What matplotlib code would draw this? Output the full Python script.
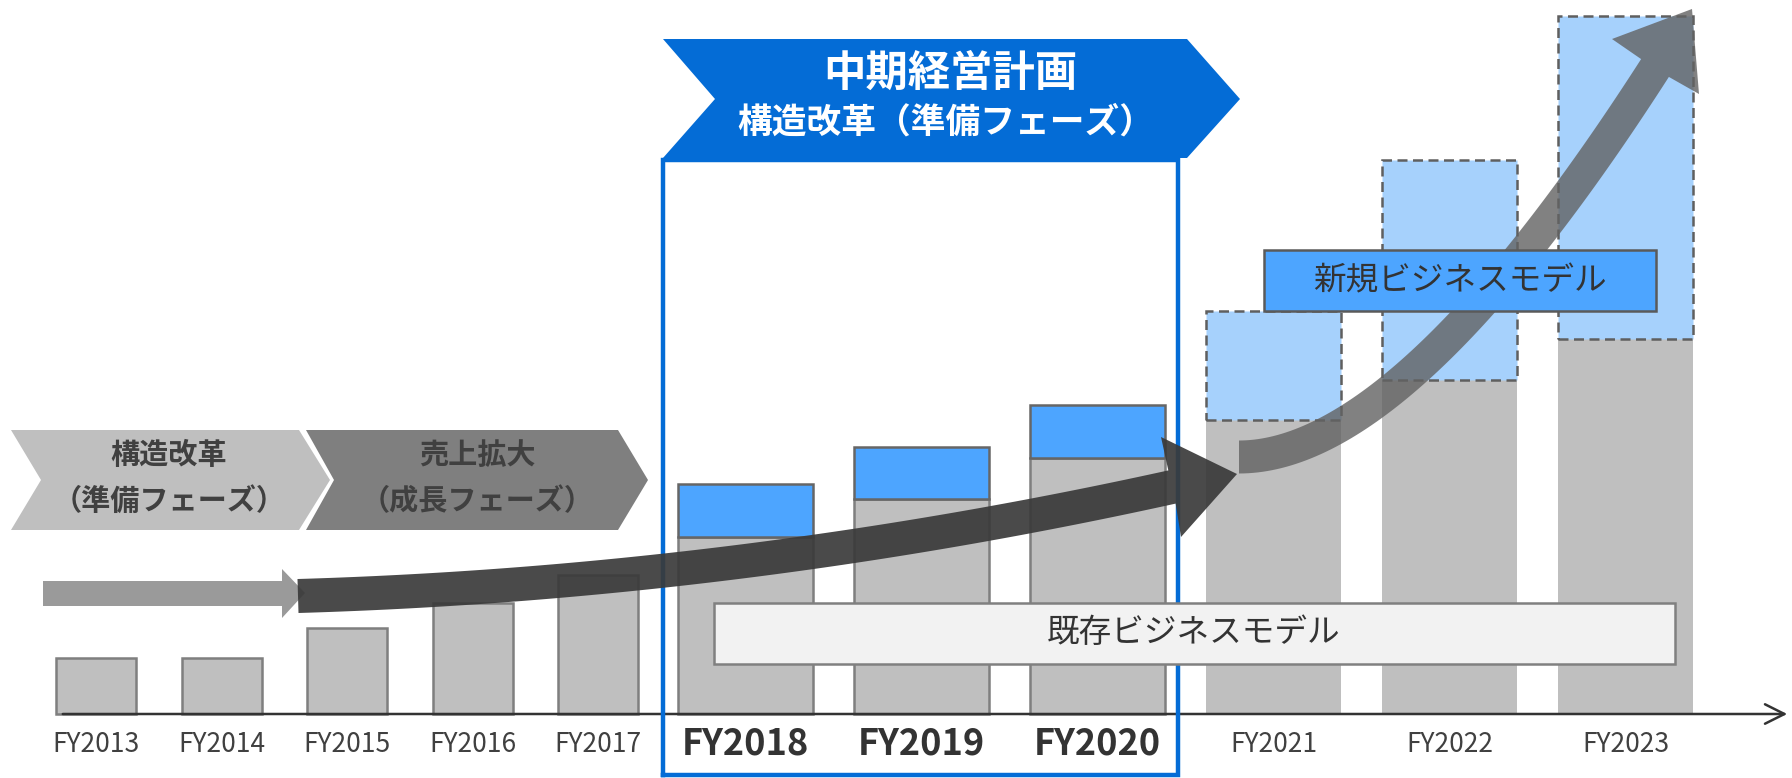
import numpy as np
import matplotlib
matplotlib.use("Agg")
import matplotlib.pyplot as plt
from matplotlib.patches import Polygon, Rectangle

plt.rcParams['font.family'] = ['Noto Sans CJK JP', 'DejaVu Sans']

# data (arbitrary units)
years = ['FY2013', 'FY2014', 'FY2015', 'FY2016', 'FY2017', 'FY2018',
         'FY2019', 'FY2020', 'FY2021', 'FY2022', 'FY2023']
existing = [56, 56, 86, 111, 139, 177, 215, 256, 294, 334, 375]
new_biz = [0, 0, 0, 0, 0, 53, 52, 53, 109, 220, 323]
plan_years = ['FY2018', 'FY2019', 'FY2020']
future_years = ['FY2021', 'FY2022', 'FY2023']

W, H = 1792, 778
BASE = 714  # baseline, pixels from top


def S(x, y):
    # screen px (top origin) -> data coords
    return (x, BASE - y)


def SP(pts):
    return [S(x, y) for x, y in pts]


fig = plt.figure(figsize=(W / 100, H / 100), dpi=100)
ax = fig.add_axes([0, 0, 1, 1])
ax.set_xlim(0, W)
ax.set_ylim(BASE - H, BASE)
ax.axis('off')

# bar layout: narrow past bars, wide plan / future bars
xpos = []
for i, y in enumerate(years):
    if i < 5:
        xpos.append(96 + 125.5 * i)
    else:
        xpos.append(745.5 + 176 * (i - 5))

past = [i for i, y in enumerate(years) if y < 'FY2018']
plan = [i for i, y in enumerate(years) if y in plan_years]
fut = [i for i, y in enumerate(years) if y in future_years]

GRAY = '#bfbfbf'
ax.bar([xpos[i] for i in past], [existing[i] for i in past], width=80,
       color=GRAY, edgecolor='#7f7f7f', linewidth=1.8, zorder=2)
ax.bar([xpos[i] for i in plan], [existing[i] for i in plan], width=135,
       color=GRAY, edgecolor='#7f7f7f', linewidth=1.8, zorder=2)
ax.bar([xpos[i] for i in plan], [new_biz[i] for i in plan], width=135,
       bottom=[existing[i] for i in plan],
       color='#4da5ff', edgecolor='#666666', linewidth=1.8, zorder=2)
ax.bar([xpos[i] for i in fut], [existing[i] for i in fut], width=135,
       color=GRAY, edgecolor='none', zorder=2)
ax.bar([xpos[i] for i in fut], [new_biz[i] for i in fut], width=135,
       bottom=[existing[i] for i in fut],
       color='#a6d1fc', edgecolor='#5f5f5f', linewidth=1.8,
       linestyle=(0, (4, 2.2)), zorder=2)

# x axis with open arrow
ax.annotate('', xy=S(1790, 714), xytext=S(60, 714),
            arrowprops=dict(arrowstyle='->,head_length=0.7,head_width=0.35',
                            lw=1.8, color='#333333', mutation_scale=20),
            zorder=3)

for i, y in enumerate(years):
    if y in plan_years:
        ax.text(xpos[i], BASE - 744, y, ha='center', va='center',
                fontsize=26, fontweight='bold', color='#333333', zorder=4)
    else:
        ax.text(xpos[i], BASE - 745, y, ha='center', va='center',
                fontsize=19, color='#404040', zorder=4)

# medium-term plan frame and banner
BLUE = '#046cd6'
ax.plot(*zip(*SP([(663, 775), (663, 160), (1178, 160), (1178, 775), (663, 775)])),
        color=BLUE, lw=3.2, zorder=3, solid_joinstyle='miter')
ax.add_patch(Polygon(SP([(663, 39), (1187, 39), (1240, 99), (1187, 158),
                         (663, 158), (715, 99)]), closed=True,
                     facecolor=BLUE, edgecolor='none', zorder=4))
ax.text(950, BASE - 74, '中期経営計画', ha='center', va='center',
        fontsize=30.5, fontweight='bold', color='white', zorder=5)
ax.text(946, BASE - 122, '構造改革（準備フェーズ）', ha='center', va='center',
        fontsize=25, fontweight='bold', color='white', zorder=5)

# phase chevrons on the left
ax.add_patch(Polygon(SP([(11, 430), (299, 430), (330, 480), (299, 530),
                         (11, 530), (41, 480)]), closed=True,
                     facecolor='#bfbfbf', edgecolor='none', zorder=4))
ax.add_patch(Polygon(SP([(306, 430), (618, 430), (648, 480), (618, 530),
                         (306, 530), (334, 480)]), closed=True,
                     facecolor='#7f7f7f', edgecolor='none', zorder=4))
for cx, l1, l2 in [(169, '構造改革', '（準備フェーズ）'),
                   (477, '売上拡大', '（成長フェーズ）')]:
    ax.text(cx, BASE - 455, l1, ha='center', va='center', fontsize=21,
            fontweight='bold', color='#404040', zorder=5)
    ax.text(cx, BASE - 501, l2, ha='center', va='center', fontsize=21,
            fontweight='bold', color='#404040', zorder=5)

# existing business label box
ax.add_patch(Rectangle(S(714, 664), 961, 61, facecolor='#f2f2f2',
                       edgecolor='#808080', lw=1.8, zorder=5))
ax.text(1194, BASE - 633, '既存ビジネスモデル', ha='center', va='center',
        fontsize=23.5, color='#333333', zorder=6)

# straight light arrow
ax.add_patch(Polygon(SP([(43, 581), (282, 581), (282, 569), (305, 593),
                         (282, 618), (282, 606), (43, 606)]), closed=True,
                     facecolor='#9a9a9a', edgecolor='none', zorder=6))


def curved_arrow(p0, p1, p2, w, head, n=80):
    p0, p1, p2 = map(np.array, (p0, p1, p2))
    t = np.linspace(0, 1, n)[:, None]
    b = (1 - t) ** 2 * p0 + 2 * (1 - t) * t * p1 + t ** 2 * p2
    d = 2 * (1 - t) * (p1 - p0) + 2 * t * (p2 - p1)
    d = d / np.linalg.norm(d, axis=1)[:, None]
    nrm = np.column_stack([-d[:, 1], d[:, 0]])
    upper = b - nrm * w / 2
    lower = b + nrm * w / 2
    pts = list(map(tuple, upper)) + head + list(map(tuple, lower[::-1]))
    return SP(pts)


# dark curved arrow
ax.add_patch(Polygon(curved_arrow((298, 596), (736, 583), (1172, 487), 34,
                                  [(1161, 437), (1237, 474), (1181, 537)]),
                     closed=True, facecolor='#3a3a3a', edgecolor='none',
                     alpha=0.92, zorder=7))

# grey rising arrow
ax.add_patch(Polygon(curved_arrow((1239, 457), (1405, 457), (1655, 68), 33,
                                  [(1612, 39), (1692, 9), (1699, 94)]),
                     closed=True, facecolor='#626262', edgecolor='none',
                     alpha=0.8, zorder=7))

# new business label box
ax.add_patch(Rectangle(S(1264, 311), 392, 61, facecolor='#4da5ff',
                       edgecolor='#5a5a5a', lw=1.8, zorder=8))
ax.text(1460, BASE - 281, '新規ビジネスモデル', ha='center', va='center',
        fontsize=23.5, color='#333333', zorder=9)

fig.savefig('out.png', dpi=100)
